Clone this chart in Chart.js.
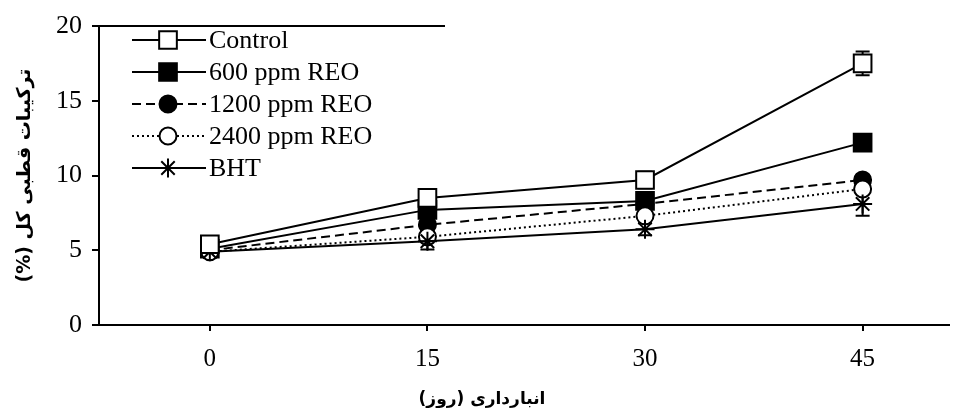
<!DOCTYPE html>
<html>
<head>
<meta charset="utf-8">
<script src="https://cdn.jsdelivr.net/npm/chart.js@4.4.1/dist/chart.umd.min.js"></script>
<style>
  body { margin: 0; background: #fff; }
  canvas { display: block; }
</style>
</head>
<body>
<canvas id="polarChart" width="963" height="416"></canvas>
<script>
// storage days
const days = [0, 15, 30, 45];
const seriesNames = ['Control', '600 ppm REO', '1200 ppm REO', '2400 ppm REO', 'BHT'];

// total polar compounds (%)
const controlVals = [5.4, 8.5, 9.7, 17.5];
const reo600Vals = [5.1, 7.7, 8.3, 12.2];
const reo1200Vals = [5.0, 6.7, 8.1, 9.7];
const reo2400Vals = [4.9, 5.9, 7.3, 9.1];
const bhtVals = [4.9, 5.6, 6.4, 8.1];

// standard deviation
const controlErr = [0.5, 0.35, 0.55, 0.8];
const reo600Err = [0.3, 0.4, 0.4, 0.3];
const reo1200Err = [0.3, 0.3, 0.3, 0.3];
const reo2400Err = [0.3, 0.3, 0.3, 0.3];
const bhtErr = [0.3, 0.55, 0.4, 0.8];

const yTicks = [0, 5, 10, 15, 20];

const yTitle = '\u200Fترکیبات قطبی کل (%)\u200F';
const xTitle = '\u200Fانبارداری (روز)\u200F';

const serif = '"Liberation Serif", "Times New Roman", serif';

function pts(vals) {
    return days.map((d, i) => ({ x: d, y: vals[i] }));
}

const allVals = [controlVals, reo600Vals, reo1200Vals, reo2400Vals, bhtVals];
const allErr = [controlErr, reo600Err, reo1200Err, reo2400Err, bhtErr];
const styles = [
    { pointStyle: 'rect', radius: 12.5, bg: '#fff', dash: [], order: 0 },
    { pointStyle: 'rect', radius: 12.5, bg: '#000', dash: [], order: 4 },
    { pointStyle: 'circle', radius: 8.5, bg: '#000', dash: [9, 5], order: 3 },
    { pointStyle: 'circle', radius: 8.5, bg: '#fff', dash: [2, 3], order: 2 },
    { pointStyle: 'star', radius: 9.5, bg: '#000', dash: [], order: 1 }
];

const datasets = seriesNames.map((name, i) => ({
    label: name,
    data: pts(allVals[i]),
    err: allErr[i],
    borderColor: '#000',
    borderWidth: 2,
    borderDash: styles[i].dash,
    pointStyle: styles[i].pointStyle,
    pointRadius: styles[i].radius,
    pointBackgroundColor: styles[i].bg,
    pointBorderColor: '#000',
    pointBorderWidth: 2,
    order: styles[i].order,
    tension: 0
}));

const errorBars = {
    id: 'errorBars',
    beforeDatasetsDraw(chart) {
        const ctx = chart.ctx;
        const xs = chart.scales.x, ys = chart.scales.y;
        ctx.save();
        ctx.strokeStyle = '#000';
        ctx.lineWidth = 2;
        chart.data.datasets.forEach(ds => {
            ds.data.forEach((p, i) => {
                const x = xs.getPixelForValue(p.x);
                const top = ys.getPixelForValue(p.y + ds.err[i]);
                const bot = ys.getPixelForValue(p.y - ds.err[i]);
                ctx.beginPath();
                ctx.moveTo(x, top); ctx.lineTo(x, bot);
                ctx.moveTo(x - 7, top); ctx.lineTo(x + 7, top);
                ctx.moveTo(x - 7, bot); ctx.lineTo(x + 7, bot);
                ctx.stroke();
            });
        });
        ctx.restore();
    }
};

const legendAndTitles = {
    id: 'legendAndTitles',
    afterDraw(chart) {
        const ctx = chart.ctx;
        const area = chart.chartArea;
        ctx.save();
        // legend box top edge
        ctx.strokeStyle = '#000';
        ctx.lineWidth = 2;
        ctx.beginPath();
        ctx.moveTo(area.left, area.top);
        ctx.lineTo(445, area.top);
        ctx.stroke();

        chart.data.datasets.forEach((ds, i) => {
            const y = 40 + i * 32;
            ctx.strokeStyle = '#000';
            ctx.lineWidth = 2;
            ctx.setLineDash(ds.borderDash);
            ctx.beginPath();
            ctx.moveTo(132, y);
            ctx.lineTo(206, y);
            ctx.stroke();
            ctx.setLineDash([]);
            ctx.fillStyle = ds.pointBackgroundColor;
            Chart.helpers.drawPoint(ctx, {
                pointStyle: ds.pointStyle,
                radius: ds.pointRadius,
                rotation: 0,
                borderWidth: 2
            }, 168, y);
            ctx.fillStyle = '#000';
            ctx.font = '26px ' + serif;
            ctx.textAlign = 'left';
            ctx.textBaseline = 'middle';
            ctx.fillText(ds.label, 209, y + 1);
        });

        // axis titles
        ctx.fillStyle = '#000';
        ctx.textAlign = 'center';
        ctx.textBaseline = 'middle';
        ctx.font = 'bold 17px "DejaVu Sans", sans-serif';
        ctx.fillText(xTitle, 482, 400);
        ctx.font = 'bold 19px "DejaVu Sans", sans-serif';
        ctx.translate(25, (area.top + area.bottom) / 2);
        ctx.rotate(-Math.PI / 2);
        ctx.fillText(yTitle, 0, 0);
        ctx.restore();
    }
};

const ctx = document.getElementById('polarChart').getContext('2d');
const polarChart = new Chart(ctx, {
    type: 'line',
    data: { datasets: datasets },
    options: {
        responsive: false,
        animation: false,
        layout: { padding: { top: 26, right: 13, left: 0, bottom: 0 } },
        plugins: {
            legend: { display: false },
            tooltip: { enabled: false }
        },
        scales: {
            x: {
                type: 'linear',
                min: -7.64,
                max: 50.92,
                afterBuildTicks: scale => { scale.ticks = days.map(v => ({ value: v })); },
                afterFit: scale => { scale.height = 91; },
                border: { color: '#000', width: 2 },
                grid: { drawOnChartArea: false, drawTicks: true, tickLength: 6, color: '#000', lineWidth: 2 },
                ticks: { color: '#000', font: { family: serif, size: 25 }, padding: 13, maxRotation: 0 }
            },
            y: {
                min: 0,
                max: 20,
                afterBuildTicks: scale => { scale.ticks = yTicks.map(v => ({ value: v })); },
                afterFit: scale => { scale.width = 99; },
                border: { color: '#000', width: 2 },
                grid: { drawOnChartArea: false, drawTicks: true, tickLength: 7, color: '#000', lineWidth: 2 },
                ticks: { color: '#000', font: { family: serif, size: 26 }, padding: 10 }
            }
        }
    },
    plugins: [errorBars, legendAndTitles]
});
</script>
</body>
</html>
